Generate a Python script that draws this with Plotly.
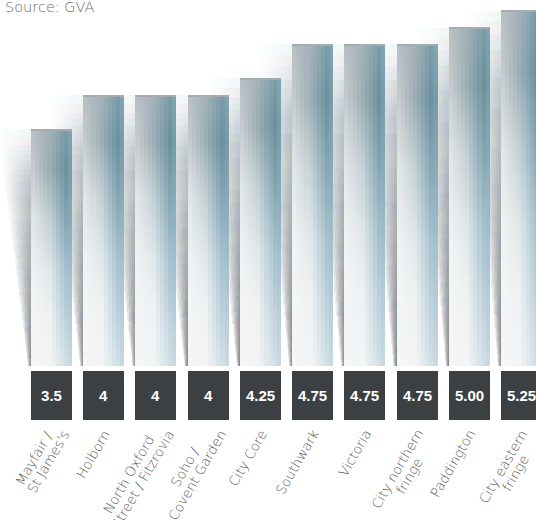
import numpy as np
import plotly.graph_objects as go

# ---------------- data ----------------
categories = [["Mayfair /", "St James's"], ["Holborn"], ["North Oxford", "Street / Fitzrovia"],
              ["Soho /", "Covent Garden"], ["City Core"], ["Southwark"], ["Victoria"],
              ["City northern", "fringe"], ["Paddington"], ["City eastern", "fringe"]]
values = [3.5, 4, 4, 4, 4.25, 4.75, 4.75, 4.75, 5.00, 5.25]
value_labels = ["3.5", "4", "4", "4", "4.25", "4.75", "4.75", "4.75", "5.00", "5.25"]
source_text = "Source: GVA"

# ---------------- geometry / style ----------------
W, H = 536, 520
PX_PER_UNIT = 67.7      # vertical pixels per unit
BASE_PX = 366           # pixel row of the zero line
X_STEP = 52.22          # pixels between categories
X_FIRST = 51.5          # pixel centre of first category
BAR_PX = 41

x_lo = -X_FIRST / X_STEP
x_hi = x_lo + W / X_STEP
y_hi = BASE_PX / PX_PER_UNIT
y_lo = -(H - BASE_PX) / PX_PER_UNIT
bw = BAR_PX / X_STEP
pxx = 1 / X_STEP
pxy = 1 / PX_PER_UNIT

LABEL_FONT = "DejaVu Sans, Lato, sans-serif"
LABEL_SIZE = 13.5

# gradient control grid (rows: t from bottom to top, cols: u from left to right)
T_ROWS = [0.0, 0.2, 0.4, 0.62, 0.83, 1.0]
U_COLS = [0.0, 0.45, 0.85, 1.0]
GRID = [
    ["#f5f6f6", "#f3f5f6", "#d2e0e7", "#c4d6df"],
    ["#f4f6f6", "#eef2f3", "#bdd0db", "#b3cad7"],
    ["#f1f3f3", "#dfe7ea", "#a6c1ce", "#a0bccb"],
    ["#e4e8e9", "#c3d0d5", "#84a6b3", "#8aacb9"],
    ["#c8ced1", "#9cadb5", "#6a919e", "#7ba0ac"],
    ["#b9c0c4", "#a3b1b8", "#7a9ea9", "#86a9b3"],
]


def hex2rgb(h):
    h = h.lstrip("#")
    return np.array([int(h[i:i + 2], 16) for i in (0, 2, 4)], dtype=float)


GRID_RGB = np.array([[hex2rgb(c) for c in row] for row in GRID])


def grad_color(u, t):
    rows = np.array([[np.interp(u, U_COLS, GRID_RGB[r, :, ch]) for ch in range(3)]
                     for r in range(len(T_ROWS))])
    c = [np.interp(t, T_ROWS, rows[:, ch]) for ch in range(3)]
    return "rgb(%d,%d,%d)" % tuple(int(round(x)) for x in c)


# approximate advance widths (em) of DejaVu Sans, used to centre stacked lines
ADV = {' ': .318, '/': .337, "'": .275, 'a': .613, 'b': .635, 'c': .550, 'd': .635, 'e': .615,
       'f': .352, 'g': .635, 'h': .634, 'i': .278, 'j': .278, 'k': .579, 'l': .278, 'm': .974,
       'n': .634, 'o': .612, 'p': .635, 'r': .411, 's': .521, 't': .392, 'u': .634, 'v': .592,
       'w': .818, 'x': .592, 'y': .592, 'z': .525}


def text_px(s, size):
    return sum(ADV.get(ch, .72 if ch.isupper() else .6) for ch in s) * size


fig = go.Figure()
idx = list(range(len(values)))

# ---------------- shadows ----------------
L = 8
NS = 90
for l in range(L):
    f = (l + 1) / L
    xs, bases, ys, cols, widths, offs = [], [], [], [], [], []
    for i, v in enumerate(values):
        for k in range(NS):
            t = (k + 0.5) / NS
            wpx = f * (3 + 30 * t)
            a_tot = 0.62 - 0.40 * t
            if t > 0.78:
                a_tot *= max(0.0, 1 - (t - 0.78) / 0.22 * 0.8)
            a = 1 - (1 - a_tot) ** (1 / L)
            cr = 72 + (60 - 72) * t
            cg = 74 + (90 - 74) * t
            cb = 76 + (106 - 76) * t
            xs.append(i)
            bases.append(v * k / NS)
            ys.append(v / NS)
            cols.append("rgba(%d,%d,%d,%.4f)" % (cr, cg, cb, a))
            widths.append((wpx + 2) * pxx)
            offs.append(-bw / 2 - wpx * pxx)
    fig.add_bar(x=xs, y=ys, base=bases, width=widths, offset=offs,
                marker=dict(color=cols, line=dict(width=0)),
                hoverinfo="skip", showlegend=False)

# ---------------- gradient bar bodies ----------------
N = 60
M = 10
for j in range(M):
    u = (j + 0.5) / M
    xs, bases, ys, cols = [], [], [], []
    for i, v in enumerate(values):
        for k in range(N):
            t = (k + 0.5) / N
            xs.append(i)
            bases.append(v * k / N)
            ys.append(v / N)
            cols.append(grad_color(u, t))
    fig.add_bar(x=xs, y=ys, base=bases, width=bw / M, offset=-bw / 2 + j * bw / M,
                marker=dict(color=cols, line=dict(width=0)),
                hoverinfo="skip", showlegend=False)

# thin top edge of each bar
fig.add_bar(x=idx, y=[1.2 * pxy] * len(values), base=[v - 1.2 * pxy for v in values],
            width=bw, marker=dict(color="#a4acb0", line=dict(width=0)),
            hoverinfo="skip", showlegend=False)

# ---------------- value boxes ----------------
fig.add_bar(x=idx, y=[-49 * pxy] * len(values), base=[-5 * pxy] * len(values),
            width=bw, marker=dict(color="#3d4043", line=dict(width=0)),
            text=value_labels, textposition="inside", insidetextanchor="middle",
            textangle=0, constraintext="none",
            textfont=dict(family="Arial, Liberation Sans, sans-serif", size=15,
                          color="white", weight="bold"),
            hoverinfo="skip", showlegend=False)

# ---------------- category labels (rotated, centred lines) ----------------
ang = np.deg2rad(60)
d_dir = np.array([np.cos(ang), -np.sin(ang)])     # along the text baseline
d_perp = np.array([np.sin(ang), np.cos(ang)])     # to the next line
LS = 14.0
for i, lines in enumerate(categories):
    lens = [text_px(s, LABEL_SIZE) for s in lines]
    mL = int(np.argmax(lens))
    end_long = np.array([2 + 12 * mL, 0.0])
    for m, s in enumerate(lines):
        e = end_long + (m - mL) * LS * d_perp + (lens[m] - lens[mL]) / 2 * d_dir
        fig.add_annotation(x=i, y=(BASE_PX - 430) * pxy, xref="x", yref="y", text=s,
                           showarrow=False, textangle=-60,
                           xanchor="right", yanchor="top",
                           xshift=e[0] + 10, yshift=-(e[1] - 6),
                           font=dict(family=LABEL_FONT, size=LABEL_SIZE,
                                     color="#575757", weight=200))

fig.add_annotation(x=0, y=1, xref="paper", yref="paper", text=source_text,
                   showarrow=False, xanchor="left", yanchor="top", xshift=3, yshift=3,
                   font=dict(family=LABEL_FONT, size=14.5, color="#6a6a6a", weight=200))

fig.update_layout(
    width=W, height=H, margin=dict(l=0, r=0, t=0, b=0),
    paper_bgcolor="white", plot_bgcolor="white",
    barmode="overlay", bargap=0, bargroupgap=0,
    xaxis=dict(range=[x_lo, x_hi], visible=False, fixedrange=True),
    yaxis=dict(range=[y_lo, y_hi], visible=False, fixedrange=True),
    showlegend=False,
)

fig.write_html("out.html")
